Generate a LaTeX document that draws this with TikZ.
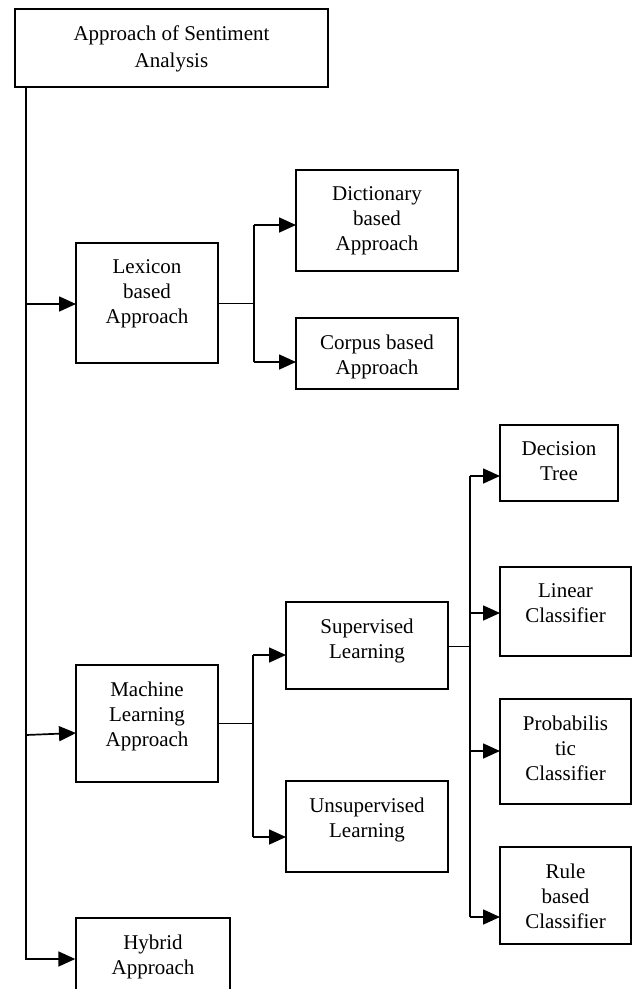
\documentclass[tikz,border=0pt]{standalone}
\usepackage{fontspec}
\setmainfont{Liberation Serif}
\usetikzlibrary{arrows.meta,fit}
\tikzset{
  box/.style={draw=black, line width=1.4pt, inner sep=0pt, rectangle},
  txt/.style={align=center, inner sep=0pt, font=\fontsize{21}{25}\selectfont, text=black},
  thinline/.style={line width=0.9pt, draw=black},
  thickline/.style={line width=1.7pt, draw=black},
  arr/.style={thickline, -{Triangle[length=17pt, width=15pt]}},
}
\begin{document}
\begin{tikzpicture}[x=1pt, y=1pt]
\useasboundingbox (0,0) rectangle (637,-989);
\clip (0,0) rectangle (637,-989);

% boxes
\node[box, fit={(15,-9) (328,-87)}] (root) {};
\node[box, fit={(76,-243) (218,-363)}] (lex) {};
\node[box, fit={(296,-170) (458,-271)}] (dict) {};
\node[box, fit={(296,-318) (458,-389)}] (corp) {};
\node[box, fit={(76,-665) (218,-782)}] (ml) {};
\node[box, fit={(286,-602) (448,-689)}] (sup) {};
\node[box, fit={(286,-781) (448,-872)}] (unsup) {};
\node[box, fit={(500,-425) (618,-501)}] (dt) {};
\node[box, fit={(500,-567) (631,-656)}] (lin) {};
\node[box, fit={(500,-699) (631,-804)}] (prob) {};
\node[box, fit={(500,-847) (631,-944)}] (rule) {};
\node[box, fit={(76,-918) (230,-1000)}] (hyb) {};

% texts
\node[txt, anchor=north] (roott) at ([yshift=-17pt]root.north) {Approach of Sentiment\\[2pt]Analysis};
\node[txt, anchor=north] (lext) at ([yshift=-17pt]lex.north) {Lexicon\\based\\Approach};
\node[txt, anchor=north] (dictt) at ([yshift=-17pt]dict.north) {Dictionary\\based\\Approach};
\node[txt, anchor=north] (corpt) at ([yshift=-17pt]corp.north) {Corpus based\\Approach};
\node[txt, anchor=north] (mlt) at ([yshift=-17pt]ml.north) {Machine\\Learning\\Approach};
\node[txt, anchor=north] (supt) at ([yshift=-17pt]sup.north) {Supervised\\Learning};
\node[txt, anchor=north] (unsupt) at ([yshift=-17pt]unsup.north) {Unsupervised\\Learning};
\node[txt, anchor=north] (dtt) at ([yshift=-17pt]dt.north) {Decision\\Tree};
\node[txt, anchor=north] (lint) at ([yshift=-17pt]lin.north) {Linear\\Classifier};
\node[txt, anchor=north] (probt) at ([yshift=-17pt]prob.north) {Probabilis\\tic\\Classifier};
\node[txt, anchor=north] (rulet) at ([yshift=-17pt]rule.north) {Rule\\based\\Classifier};
\node[txt, anchor=north] (hybt) at ([yshift=-17pt]hyb.north) {Hybrid\\Approach};

% connection coordinates
\coordinate (t0) at (26,-87);
\coordinate (lexin) at (76,-304);
\coordinate (mlin) at (76,-733);
\coordinate (mlfrom) at (26,-735);
\coordinate (lexbr) at (254,-303);
\coordinate (dictin) at (296,-225);
\coordinate (corpin) at (296,-362);
\coordinate (mlbr) at (253,-723);
\coordinate (supin) at (286,-655);
\coordinate (unsupin) at (286,-837);
\coordinate (supbr) at (470,-646);
\coordinate (dtin) at (500,-476);
\coordinate (linin) at (500,-613);
\coordinate (probin) at (500,-751);
\coordinate (rulein) at (500,-917);

% trunk
\draw[arr] (t0) |- (hyb.west);
\draw[arr] (lexin -| t0) -- (lexin);
\draw[arr] (mlfrom) -- (mlin);

% lexicon branch
\draw[thinline] (lex.east |- lexbr) -- (lexbr);
\draw[thickline] (dictin -| lexbr) -- (corpin -| lexbr);
\draw[arr] (dictin -| lexbr) -- (dictin);
\draw[arr] (corpin -| lexbr) -- (corpin);

% machine learning branch
\draw[thinline] (ml.east |- mlbr) -- (mlbr);
\draw[thickline] (supin -| mlbr) -- (unsupin -| mlbr);
\draw[arr] (supin -| mlbr) -- (supin);
\draw[arr] (unsupin -| mlbr) -- (unsupin);

% supervised branch
\draw[thinline] (sup.east |- supbr) -- (supbr);
\draw[thickline] (dtin -| supbr) -- (rulein -| supbr);
\draw[arr] (dtin -| supbr) -- (dtin);
\draw[arr] (linin -| supbr) -- (linin);
\draw[arr] (probin -| supbr) -- (probin);
\draw[arr] (rulein -| supbr) -- (rulein);
\end{tikzpicture}
\end{document}
